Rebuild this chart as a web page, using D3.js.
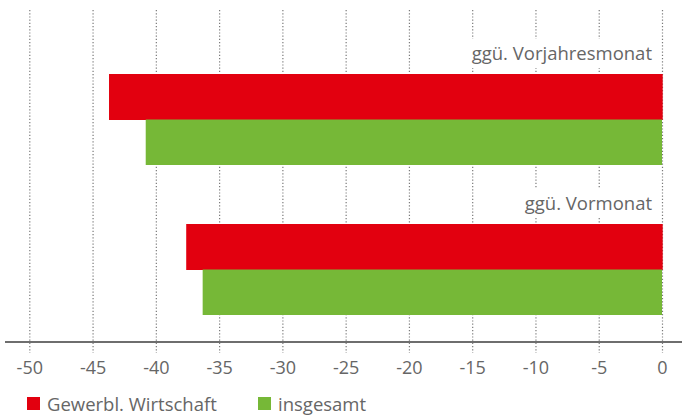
<!DOCTYPE html>
<html>
<head>
<meta charset="utf-8">
<script src="https://cdn.jsdelivr.net/npm/d3@7"></script>
<style>
  body { margin: 0; background: #fff; }
  svg { display: block; font-family: "Open Sans", sans-serif; }
</style>
</head>
<body>
<svg id="chart" width="682" height="416"></svg>
<script>
// data
const categories = ["ggü. Vorjahresmonat", "ggü. Vormonat"];
const seriesNames = ["Gewerbl. Wirtschaft", "insgesamt"];
const gewerbl = [-43.7, -37.6];
const insgesamt = [-40.8, -36.3];
const tickValues = [-50, -45, -40, -35, -30, -25, -20, -15, -10, -5, 0];
const colors = ["#e2000f", "#76b837"];

const svg = d3.select("#chart");
const axisY = 342;

const x = d3.scaleLinear().domain([-50, 0]).range([29.3, 662]);

const yGroup = d3.scaleBand().domain(categories).range([24, 324]);
const ySeries = d3.scaleBand().domain(seriesNames).range([50, 141]);

// grid + tick labels
const xAxis = d3.axisBottom(x)
  .tickValues(tickValues)
  .tickSize(11)
  .tickPadding(8)
  .tickFormat(d => String(d));

const gx = svg.append("g")
  .attr("transform", `translate(0,${axisY})`)
  .call(xAxis);
gx.select(".domain").remove();
gx.selectAll(".tick line")
  .attr("y1", -(axisY - 10))
  .attr("stroke", "#7a7a7a")
  .attr("stroke-width", 1.2)
  .attr("stroke-dasharray", "1.2,2");
gx.selectAll(".tick text")
  .attr("font-size", 18)
  .attr("fill", "#666")
  .attr("font-family", "Open Sans, sans-serif");

// category labels (white backdrop hides grid)
const labels = svg.append("g");
categories.forEach(c => {
  const t = labels.append("text")
    .attr("x", 652)
    .attr("y", yGroup(c) + 36)
    .attr("text-anchor", "end")
    .attr("font-size", 18.5)
    .attr("fill", "#666")
    .text(c);
  const b = t.node().getBBox();
  labels.insert("rect", "text")
    .attr("x", b.x - 6).attr("y", b.y - 1)
    .attr("width", b.width + 6).attr("height", b.height + 4)
    .attr("fill", "#fff");
});

// bars
const seriesValues = [gewerbl, insgesamt];
seriesNames.forEach((s, si) => {
  svg.append("g")
    .selectAll("rect")
    .data(categories)
    .join("rect")
    .attr("x", (d, i) => x(seriesValues[si][i]))
    .attr("y", d => yGroup(d) + ySeries(s))
    .attr("width", (d, i) => x(0) - x(seriesValues[si][i]) + (si === 0 ? 0.7 : 0))
    .attr("height", ySeries.bandwidth() + (si === 0 ? 0.5 : 0))
    .attr("fill", colors[si]);
});

// axis line
svg.append("line")
  .attr("x1", 5).attr("x2", 682)
  .attr("y1", axisY).attr("y2", axisY)
  .attr("stroke", "#6e6e6e")
  .attr("stroke-width", 2);

// legend
const legendX = [27, 258];
const legend = svg.append("g");
seriesNames.forEach((s, i) => {
  legend.append("rect")
    .attr("x", legendX[i]).attr("y", 397)
    .attr("width", 13).attr("height", 13)
    .attr("fill", colors[i]);
  legend.append("text")
    .attr("x", legendX[i] + 20)
    .attr("y", 410.5)
    .attr("font-size", 18.5)
    .attr("fill", "#666")
    .text(s);
});
</script>
</body>
</html>
